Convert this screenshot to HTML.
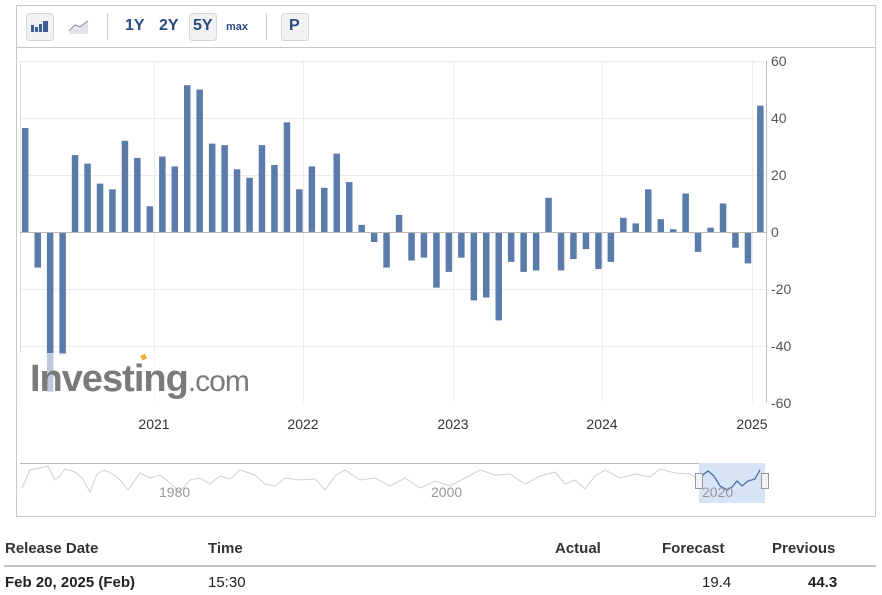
<!DOCTYPE html>
<html><head><meta charset="utf-8"><style>
body{margin:0;background:#fff;width:882px;height:595px;overflow:hidden;font-family:"Liberation Sans",Arial,sans-serif;}
.tb{position:absolute;font-weight:bold;color:#2a4a80;}
.th{position:absolute;top:540px;font-weight:bold;font-size:15px;color:#333;}
.td{position:absolute;top:574px;font-size:15px;color:#222;}
</style></head><body>
<svg id="s" width="882" height="595" style="position:absolute;left:0;top:0" xmlns="http://www.w3.org/2000/svg">
<rect x="16.5" y="5.5" width="859" height="511" fill="#fff" stroke="#c8c8c8"/>
<line x1="17" y1="47.5" x2="875" y2="47.5" stroke="#c8c8c8"/>
<rect x="26.5" y="13.5" width="27" height="27" rx="3" fill="#f2f2f2" stroke="#d6d6d6"/>
<g fill="#3d5f95"><rect x="31" y="25" width="3" height="7"/><rect x="35" y="27" width="3" height="5"/><rect x="39" y="24" width="3" height="8"/><rect x="43" y="21" width="5" height="11"/></g>
<path d="M69 33 L75 27 L80 29 L88 23 L88 34 L69 34Z" fill="#dfe3ea"/><path d="M69 31 L75 25 L80 27 L88 21" stroke="#9aa6b8" fill="none" stroke-width="1.5"/>
<line x1="107.5" y1="13" x2="107.5" y2="40" stroke="#ccc"/>
<rect x="189.5" y="13.5" width="27" height="27" rx="3" fill="#f2f2f2" stroke="#d6d6d6"/>
<line x1="266.5" y1="13" x2="266.5" y2="40" stroke="#ccc"/>
<rect x="281.5" y="13.5" width="27" height="27" rx="3" fill="#f2f2f2" stroke="#d6d6d6"/>
<g stroke="#ececec"><line x1="20" y1="61.5" x2="766" y2="61.5"/><line x1="20" y1="118.5" x2="766" y2="118.5"/><line x1="20" y1="175.5" x2="766" y2="175.5"/><line x1="20" y1="289.5" x2="766" y2="289.5"/><line x1="20" y1="346.5" x2="766" y2="346.5"/>
<line x1="154.5" y1="61" x2="154.5" y2="402"/><line x1="303.5" y1="61" x2="303.5" y2="402"/><line x1="453.5" y1="61" x2="453.5" y2="402"/><line x1="602.5" y1="61" x2="602.5" y2="402"/><line x1="752.5" y1="61" x2="752.5" y2="402"/></g>
<line x1="20.5" y1="61" x2="20.5" y2="402" stroke="#e4e4e4"/>
<g id="bars" fill="#5b7bab"></g>
<line x1="20" y1="232.5" x2="766" y2="232.5" stroke="#b8b8b8"/>
<line x1="766.5" y1="61" x2="766.5" y2="402" stroke="#bbb"/>
<g font-size="14" fill="#555" font-family="Liberation Sans,sans-serif"><text x="771" y="66">60</text><text x="771" y="123">40</text><text x="771" y="180">20</text><text x="771" y="237">0</text><text x="771" y="294">-20</text><text x="771" y="351">-40</text><text x="771" y="408">-60</text></g>
<g font-size="14" fill="#333" text-anchor="middle" font-family="Liberation Sans,sans-serif"><text x="154" y="429">2021</text><text x="303" y="429">2022</text><text x="453" y="429">2023</text><text x="602" y="429">2024</text><text x="752" y="429">2025</text></g>
<rect x="20" y="353" width="242" height="48" fill="#fff" opacity="0.6"/>
<text x="30" y="391" font-size="38" font-weight="bold" fill="#6f6f6f" opacity="0.92" font-family="Liberation Sans,sans-serif" letter-spacing="-1">Investing<tspan font-weight="normal" font-size="30">.com</tspan></text>
<rect x="141" y="355" width="5" height="5" fill="#f0b030" transform="rotate(-30 143 357)"/>
<line x1="20" y1="463.5" x2="699" y2="463.5" stroke="#bbb"/>
<rect x="699" y="463" width="66" height="40" fill="#d6e4f5"/>
<path d="M22 488 L30 470 L40 468 L48 466 L55 480 L60 476 L65 469 L75 472 L82 478 L90 492 L97 474 L104 470 L113 474 L120 480 L128 490 L140 473 L150 478 L160 475 L170 483 L180 492 L190 480 L200 478 L210 484 L220 476 L230 479 L240 470 L255 475 L265 484 L275 486 L285 478 L300 480 L315 479 L325 490 L335 476 L345 470 L360 480 L375 478 L390 486 L405 478 L420 488 L435 481 L450 486 L465 478 L480 470 L495 475 L510 474 L525 484 L540 476 L555 472 L565 484 L575 480 L585 489 L595 476 L605 470 L620 478 L635 474 L650 477 L660 469 L675 473 L690 474 L699 480" fill="none" stroke="#d0d0d0"/>
<path d="M699 480 L704 474 L708 471 L714 476 L720 486 L727 490 L732 487 L737 481 L742 486 L748 481 L755 479 L760 470" fill="none" stroke="#4a6fa5" stroke-width="1.3"/>
<rect x="695.5" y="473.5" width="7" height="15" fill="#f2f2f2" stroke="#999"/><rect x="761.5" y="473.5" width="7" height="15" fill="#f2f2f2" stroke="#999"/>
<g font-size="14" fill="#999" font-family="Liberation Sans,sans-serif"><text x="159" y="497">1980</text><text x="431" y="497">2000</text><text x="702" y="497">2020</text></g>
<line x1="4" y1="566" x2="876" y2="566" stroke="#c4c4c4" stroke-width="2"/>
</svg>
<div class="tb" style="left:125px;top:17px;font-size:16px">1Y</div>
<div class="tb" style="left:159px;top:17px;font-size:16px">2Y</div>
<div class="tb" style="left:193px;top:17px;font-size:16px">5Y</div>
<div class="tb" style="left:226px;top:21px;font-size:11px">max</div>
<div class="tb" style="left:289px;top:17px;font-size:16px">P</div>
<div class="th" style="left:5px">Release Date</div>
<div class="th" style="left:208px">Time</div>
<div class="th" style="left:555px">Actual</div>
<div class="th" style="left:662px">Forecast</div>
<div class="th" style="left:772px">Previous</div>
<div class="td" style="left:5px;font-weight:bold">Feb 20, 2025 (Feb)</div>
<div class="td" style="left:208px">15:30</div>
<div class="td" style="left:702px">19.4</div>
<div class="td" style="left:808px;font-weight:bold">44.3</div>
<script>
var v=[36.5,-12.5,-56,-43,27,24,17,15,32,26,9,26.5,23,51.5,50,31,30.5,22,19,30.5,23.5,38.5,15,23,15.5,27.5,17.5,2.5,-3.5,-12.5,6,-10,-9,-19.5,-14,-9,-24,-23,-31,-10.5,-14,-13.5,12,-13.5,-9.5,-6,-13,-10.5,5,3,15,4.5,1,13.5,-7,1.5,10,-5.5,-11,44.3];
var g=document.getElementById('bars'),h='';
for(var i=0;i<v.length;i++){var x=25+i*12.46-3,y0=232,k=2.85,y=v[i]>0?y0-v[i]*k:y0,hh=Math.abs(v[i])*k;h+='<rect x="'+x.toFixed(1)+'" y="'+y.toFixed(1)+'" width="6.5" height="'+hh.toFixed(1)+'"/>';}
g.innerHTML=h;
</script>
</body></html>
